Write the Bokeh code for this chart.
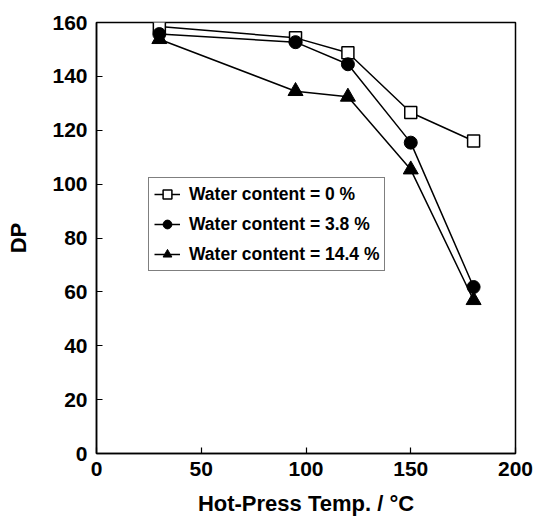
from bokeh.plotting import figure
from bokeh.models import Legend, LegendItem, Range1d, FixedTicker
from bokeh.embed import file_html
from bokeh.resources import INLINE

temps = [30, 95, 120, 150, 180]
dp_0 = [158.5, 154.3, 148.8, 126.6, 116.0]
dp_38 = [155.7, 152.7, 144.5, 115.4, 61.8]
dp_144 = [153.8, 134.5, 132.4, 105.4, 56.9]
labels = ["Water content = 0 %", "Water content = 3.8 %", "Water content = 14.4 %"]
x_ticks = [0, 50, 100, 150, 200]
y_ticks = [0, 20, 40, 60, 80, 100, 120, 140, 160]

FONT = "Liberation Sans"

p = figure(width=542, height=521, output_backend="svg", toolbar_location=None,
           x_range=Range1d(0, 200), y_range=Range1d(0, 160),
           min_border_left=96, min_border_right=27, min_border_top=22, min_border_bottom=68)
p.background_fill_color = "white"
p.border_fill_color = "white"
p.outline_line_color = "black"
p.outline_line_width = 1.5
p.grid.visible = False

for ax in (p.xaxis, p.yaxis):
    ax.axis_line_color = "black"
    ax.axis_line_width = 1.5
    ax.major_tick_in = 6
    ax.major_tick_out = 0
    ax.major_tick_line_color = "black"
    ax.major_tick_line_width = 1.2
    ax.minor_tick_line_color = None
    ax.major_label_text_font = FONT
    ax.major_label_text_font_style = "bold"
    ax.major_label_text_font_size = "21px"
    ax.major_label_text_color = "black"
    ax.axis_label_text_font = FONT
    ax.axis_label_text_font_style = "bold"
    ax.axis_label_text_font_size = "22px"
    ax.axis_label_text_color = "black"

p.xaxis.ticker = FixedTicker(ticks=x_ticks)
p.yaxis.ticker = FixedTicker(ticks=y_ticks)
p.xaxis.axis_label = "Hot-Press Temp. / °C"
p.yaxis.axis_label = "DP"
p.xaxis.major_label_standoff = 8
p.yaxis.major_label_standoff = 9
p.xaxis.axis_label_standoff = 12
p.yaxis.axis_label_standoff = 18
p.xaxis.axis_label_text_line_height = 0.9

l0 = p.line(temps, dp_0, line_color="black", line_width=1.5)
m0 = p.scatter(temps, dp_0, marker="square", size=12, fill_color="white", line_color="black", line_width=1.5)
l1 = p.line(temps, dp_38, line_color="black", line_width=1.5)
m1 = p.scatter(temps, dp_38, marker="circle", size=13, fill_color="black", line_color="black")
l2 = p.line(temps, dp_144, line_color="black", line_width=1.5)
m2 = p.scatter(temps, dp_144, marker="triangle", size=15, fill_color="black", line_color="black")

legend = Legend(items=[
    LegendItem(label=labels[0], renderers=[l0, m0]),
    LegendItem(label=labels[1], renderers=[l1, m1]),
    LegendItem(label=labels[2], renderers=[l2, m2]),
], location=(52, 182))
legend.border_line_color = "black"
legend.border_line_width = 1.2
legend.background_fill_color = "white"
legend.background_fill_alpha = 1
legend.label_text_font = FONT
legend.label_text_font_style = "bold"
legend.label_text_font_size = "17.5px"
legend.label_text_color = "black"
legend.glyph_width = 26
legend.glyph_height = 22
legend.label_height = 22
legend.spacing = 8
legend.padding = 5
legend.margin = 0
legend.label_standoff = 9
p.add_layout(legend, "center")

open("out.html", "w").write(file_html(p, INLINE))
